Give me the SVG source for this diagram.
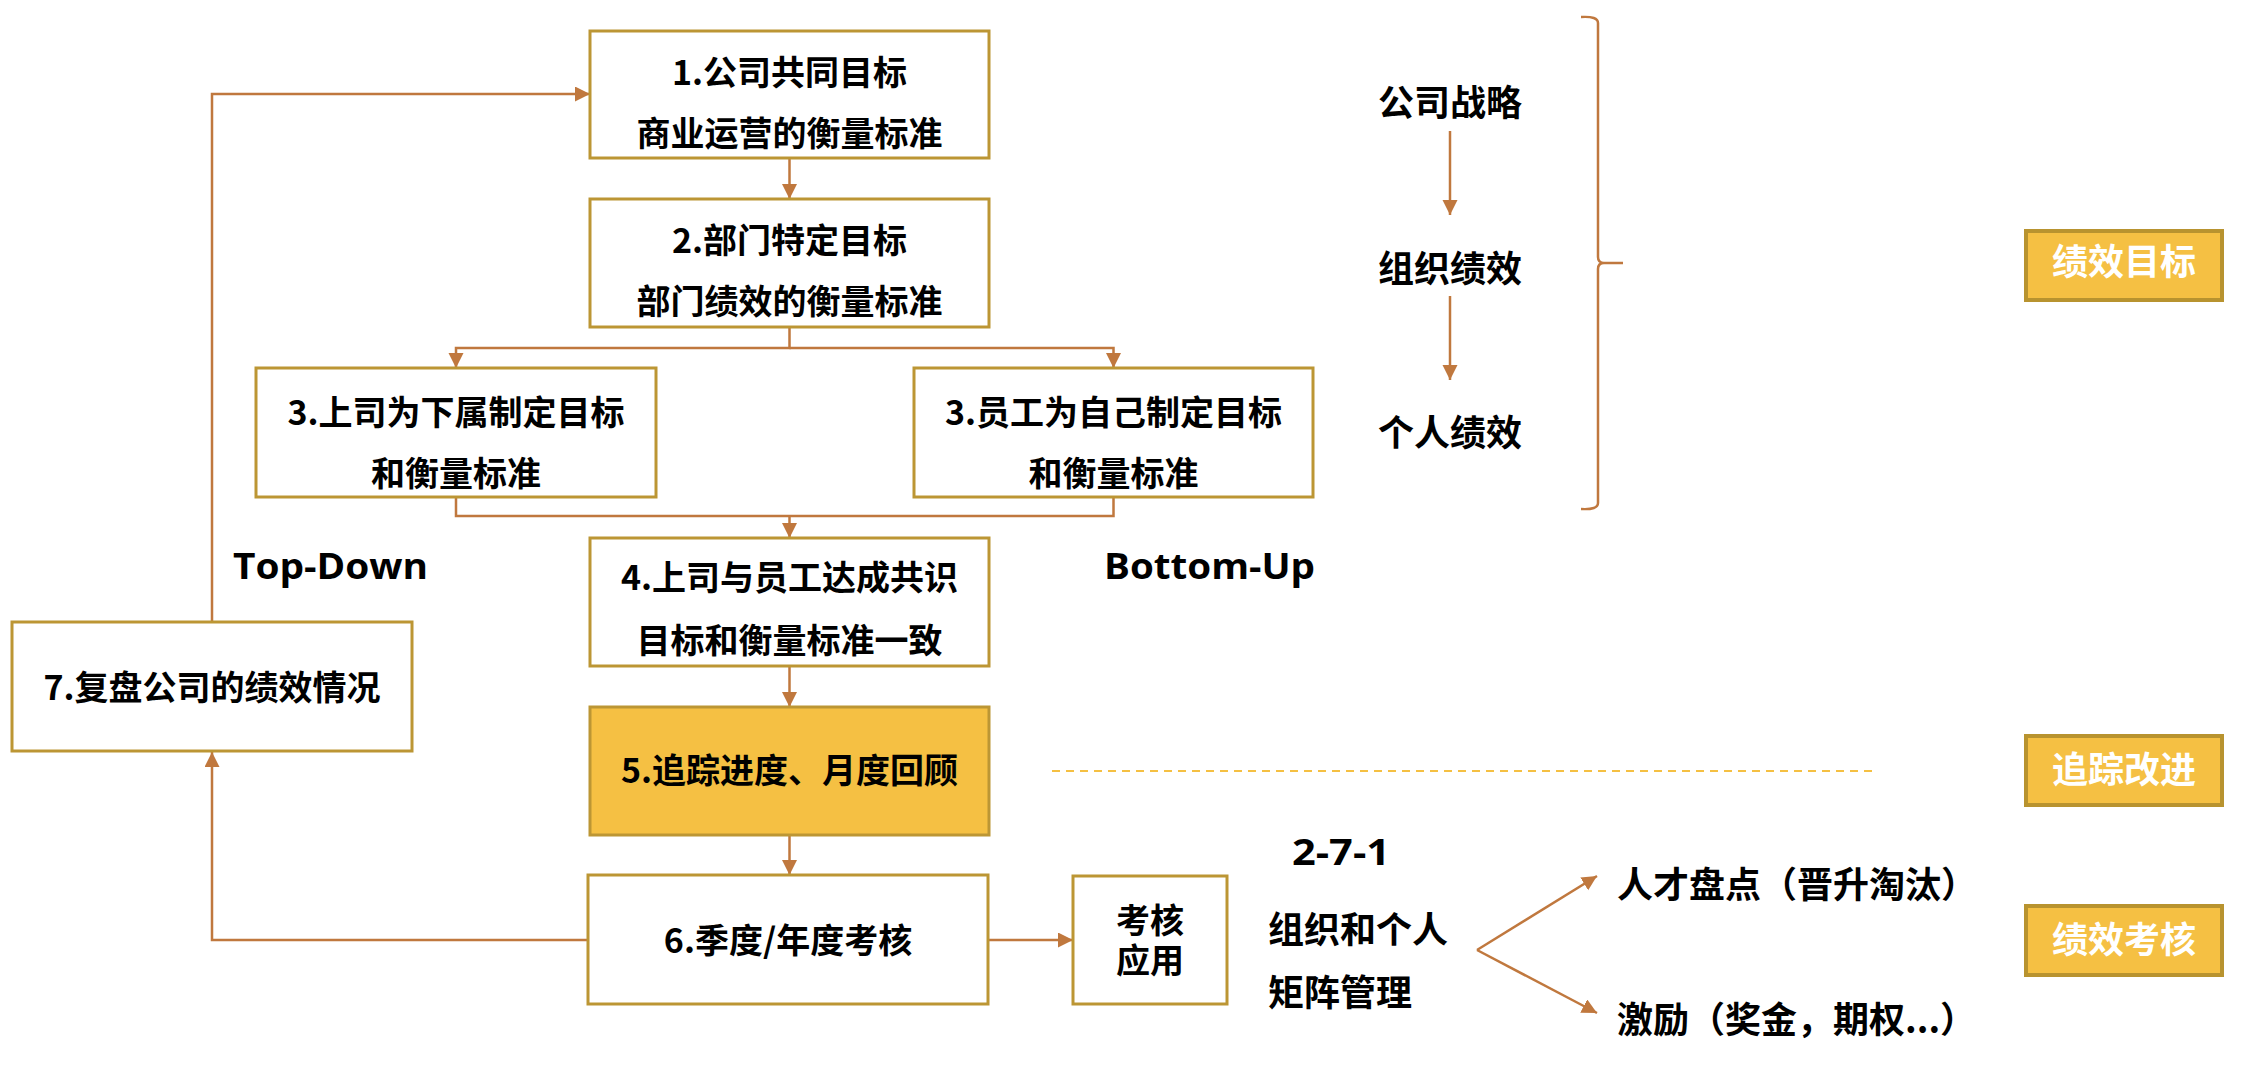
<svg xmlns="http://www.w3.org/2000/svg" width="2256" height="1066" viewBox="0 0 2256 1066">
  <style>
    .box { fill: #FFFFFF; stroke: #BC9634; stroke-width: 3; }
    .hl { fill: #F5C043; stroke: #BC9634; stroke-width: 3; }
    .tag { fill: #F5C043; stroke: #B8932F; stroke-width: 4; }
    .t { font-family: 'Noto Sans CJK SC', 'Noto Sans', sans-serif; font-weight: 700; fill: #000000; text-anchor: middle; }
    .s { font-family: 'Noto Sans CJK SC', 'Noto Sans', sans-serif; font-weight: 700; fill: #000000; text-anchor: start; font-size: 36px; }
    .t34 { font-size: 34px; }
    .t36 { font-size: 36px; }
    .tw { font-family: 'Noto Sans CJK SC', 'Noto Sans', sans-serif; font-weight: 700; fill: #FFFFFF; font-size: 36px; text-anchor: middle; }
    .lat { font-family: 'Open Sans', 'Liberation Sans', sans-serif; font-weight: 700; fill: #000000; font-size: 36px; }
    .con { fill: none; stroke: #C0783E; stroke-width: 2.5; }
    .dash { fill: none; stroke: #F5C043; stroke-width: 2; stroke-dasharray: 8 6; }
  </style>
  <defs>
    <marker id="arr" markerUnits="userSpaceOnUse" markerWidth="16" markerHeight="16" refX="15" refY="7.5" orient="auto">
      <path d="M0,0 L15,7.5 L0,15 z" fill="#C0783E"/>
    </marker>
  </defs>
  <rect width="2256" height="1066" fill="#FFFFFF"/>

  <g id="connectors">
    <path class="con" d="M789.5,158 V199" marker-end="url(#arr)"/>
    <path class="con" d="M789.5,327 V348 H456 V368" marker-end="url(#arr)"/>
    <path class="con" d="M789.5,348 H1113.5 V368" marker-end="url(#arr)"/>
    <path class="con" d="M456,497 V516 H1113.5 V497"/>
    <path class="con" d="M789.5,516 V538" marker-end="url(#arr)"/>
    <path class="con" d="M789.5,666 V707" marker-end="url(#arr)"/>
    <path class="con" d="M789.5,835 V875" marker-end="url(#arr)"/>
    <path class="con" d="M988,940 H1073" marker-end="url(#arr)"/>
    <path class="con" d="M588,940 H212 V752" marker-end="url(#arr)"/>
    <path class="con" d="M212,622 V94 H590" marker-end="url(#arr)"/>
    <path class="con" d="M1450,131 V215" marker-end="url(#arr)"/>
    <path class="con" d="M1450,296 V380" marker-end="url(#arr)"/>
    <path class="con" d="M1477,950 L1597,876" marker-end="url(#arr)"/>
    <path class="con" d="M1477,950 L1597,1013" marker-end="url(#arr)"/>
    <path class="dash" d="M1052,771 H1872"/>
  </g>

  <g id="brace">
    <path class="con" d="M1581,17 Q1598,16 1598,23 L1598,257 Q1598,263 1604,263 L1623,263 M1604,263 Q1598,263 1598,269 L1598,503 Q1598,510 1581,509"/>
  </g>

  <g id="node1">
    <rect class="box" x="590" y="31" width="399" height="127"/>
    <text class="t t34" x="789.5" y="84.5">1.公司共同目标</text>
    <text class="t t34" x="789.5" y="145.5">商业运营的衡量标准</text>
  </g>
  <g id="node2">
    <rect class="box" x="590" y="199" width="399" height="128"/>
    <text class="t t34" x="789.5" y="252.5">2.部门特定目标</text>
    <text class="t t34" x="789.5" y="313.5">部门绩效的衡量标准</text>
  </g>
  <g id="node3a">
    <rect class="box" x="256" y="368" width="400" height="129"/>
    <text class="t t34" x="456" y="424.5">3.上司为下属制定目标</text>
    <text class="t t34" x="456" y="485.5">和衡量标准</text>
  </g>
  <g id="node3b">
    <rect class="box" x="914" y="368" width="399" height="129"/>
    <text class="t t34" x="1113.5" y="424.5">3.员工为自己制定目标</text>
    <text class="t t34" x="1113.5" y="485.5">和衡量标准</text>
  </g>
  <g id="node4">
    <rect class="box" x="590" y="538" width="399" height="128"/>
    <text class="t t34" x="789.5" y="590">4.上司与员工达成共识</text>
    <text class="t t34" x="789.5" y="652.5">目标和衡量标准一致</text>
  </g>
  <g id="node5">
    <rect class="hl" x="590" y="707" width="399" height="128"/>
    <text class="t t34" x="789.5" y="783">5.追踪进度、月度回顾</text>
  </g>
  <g id="node6">
    <rect class="box" x="588" y="875" width="400" height="129"/>
    <text class="t t34" x="788" y="952.5">6.季度/年度考核</text>
  </g>
  <g id="node7">
    <rect class="box" x="12" y="622" width="400" height="129"/>
    <text class="t t34" x="212" y="699.5">7.复盘公司的绩效情况</text>
  </g>
  <g id="node-apply">
    <rect class="box" x="1073" y="876" width="154" height="128"/>
    <text class="t t34"><tspan x="1150" y="932.5">考核</tspan><tspan x="1150" y="972.5">应用</tspan></text>
  </g>

  <g id="labels">
    <text class="lat" x="233" y="579" textLength="195" lengthAdjust="spacingAndGlyphs">Top-Down</text>
    <text class="lat" x="1104" y="579" textLength="211" lengthAdjust="spacingAndGlyphs">Bottom-Up</text>
    <text class="lat" x="1292" y="865" textLength="98" lengthAdjust="spacingAndGlyphs">2-7-1</text>
    <text class="s" x="1268" y="943">组织和个人</text>
    <text class="s" x="1268" y="1006">矩阵管理</text>
    <text class="s" x="1617" y="898">人才盘点（晋升淘汰）</text>
    <text class="s" x="1617" y="1033">激励（奖金，期权...）</text>
    <text class="t t36" x="1450" y="116">公司战略</text>
    <text class="t t36" x="1450" y="282">组织绩效</text>
    <text class="t t36" x="1450" y="446">个人绩效</text>
  </g>

  <g id="tag1">
    <rect class="tag" x="2026" y="231" width="196" height="69"/>
    <text class="tw" x="2124" y="275">绩效目标</text>
  </g>
  <g id="tag2">
    <rect class="tag" x="2026" y="736" width="196" height="69"/>
    <text class="tw" x="2124" y="783">追踪改进</text>
  </g>
  <g id="tag3">
    <rect class="tag" x="2026" y="906" width="196" height="69"/>
    <text class="tw" x="2124" y="953">绩效考核</text>
  </g>
</svg>
